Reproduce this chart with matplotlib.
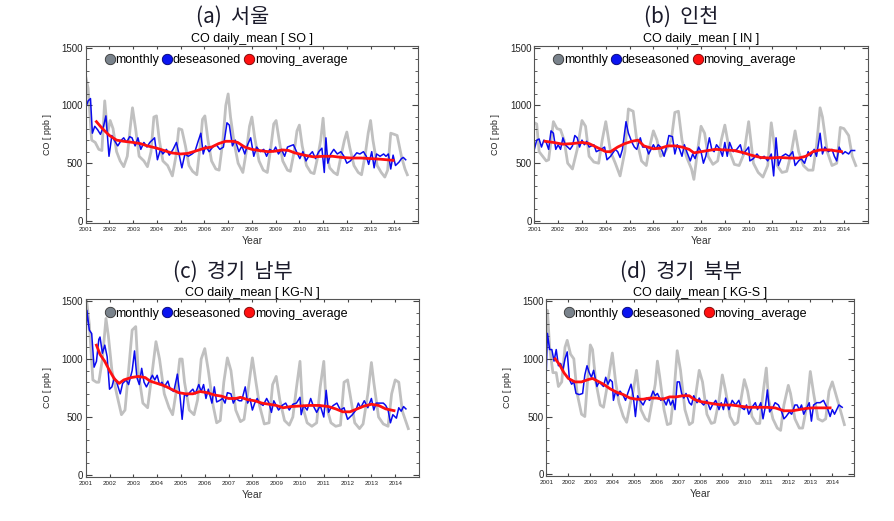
import numpy as np
import matplotlib
matplotlib.use("Agg")
import matplotlib.pyplot as plt
from matplotlib.lines import Line2D
from matplotlib.ticker import MultipleLocator

plt.rcParams['font.family'] = ['Liberation Sans', 'DejaVu Sans']

years = list(range(2001, 2015))

# (a) Seoul
so_monthly = [(2001.0,1250),(2001.1,1150),(2001.25,700),(2001.4,680),(2001.55,620),(2001.68,610),(2001.8,1040),(2001.92,760),
              (2002.03,870),(2002.15,800),(2002.3,600),(2002.45,520),(2002.6,470),(2002.75,560),(2002.87,800),(2002.97,980),
              (2003.1,800),(2003.25,560),(2003.45,520),(2003.6,470),(2003.75,600),(2003.87,900),(2003.98,910),
              (2004.1,700),(2004.25,520),(2004.45,480),(2004.65,390),(2004.8,560),(2004.92,800),(2005.05,790),
              (2005.2,650),(2005.35,480),(2005.5,430),(2005.68,400),(2005.82,650),(2005.92,880),(2006.02,910),
              (2006.15,700),(2006.3,520),(2006.48,450),(2006.62,440),(2006.78,700),(2006.9,1000),(2007.0,1100),
              (2007.1,900),(2007.25,680),(2007.42,500),(2007.62,420),(2007.78,620),(2007.9,820),(2008.0,900),
              (2008.12,720),(2008.3,520),(2008.48,440),(2008.65,420),(2008.8,640),(2008.92,840),(2009.02,870),
              (2009.15,700),(2009.3,520),(2009.5,440),(2009.62,430),(2009.78,600),(2009.9,780),(2010.0,830),
              (2010.12,650),(2010.3,480),(2010.48,420),(2010.62,410),(2010.78,560),(2010.9,700),(2011.0,890),
              (2011.1,620),(2011.28,460),(2011.45,420),(2011.6,400),(2011.75,560),(2011.9,700),(2012.0,770),
              (2012.12,640),(2012.3,480),(2012.48,420),(2012.62,400),(2012.78,580),(2012.9,760),(2013.0,870),
              (2013.1,700),(2013.28,480),(2013.45,420),(2013.6,380),(2013.72,440),(2013.85,760),(2014.0,750),
              (2014.12,740),(2014.3,560),(2014.45,450),(2014.55,400)]
so_deseason = [(2001.0,980),(2001.1,1040),(2001.2,1060),(2001.28,760),(2001.38,820),(2001.5,790),(2001.62,750),(2001.75,820),
               (2001.85,910),(2001.98,560),(2002.1,740),(2002.2,700),(2002.35,650),(2002.5,700),(2002.6,720),(2002.72,680),
               (2002.85,730),(2002.95,720),(2003.08,650),(2003.2,720),(2003.32,620),(2003.45,680),(2003.58,640),
               (2003.7,680),(2003.9,720),(2004.02,530),(2004.15,620),(2004.25,580),(2004.4,620),(2004.52,570),
               (2004.68,620),(2004.82,680),(2004.95,560),(2005.05,460),(2005.18,580),(2005.32,560),(2005.48,580),
               (2005.6,600),(2005.72,680),(2005.85,760),(2005.95,580),(2006.05,650),(2006.2,600),(2006.35,640),
               (2006.5,660),(2006.65,620),(2006.8,640),(2006.95,850),(2007.05,830),(2007.18,650),(2007.3,700),
               (2007.45,600),(2007.58,650),(2007.7,580),(2007.82,660),(2007.95,720),(2008.08,560),(2008.2,640),
               (2008.35,600),(2008.5,620),(2008.62,560),(2008.75,620),(2008.9,600),(2009.0,640),(2009.12,580),
               (2009.25,620),(2009.38,560),(2009.5,640),(2009.62,650),(2009.75,660),(2009.88,600),(2010.02,540),
               (2010.15,600),(2010.28,520),(2010.42,570),(2010.55,600),(2010.68,540),(2010.82,600),(2010.95,630),
               (2011.05,420),(2011.12,720),(2011.2,500),(2011.32,580),(2011.45,620),(2011.6,580),(2011.75,600),
               (2011.88,560),(2012.0,500),(2012.15,520),(2012.3,560),(2012.42,590),(2012.55,580),(2012.7,600),
               (2012.82,560),(2012.92,490),(2013.05,600),(2013.15,460),(2013.25,580),(2013.4,560),(2013.55,580),
               (2013.65,560),(2013.75,580),(2013.85,450),(2013.95,570),(2014.05,480),(2014.2,510),(2014.3,540),
               (2014.38,550),(2014.48,530)]
so_moving = [(2001.45,860),(2001.7,800),(2002.0,740),(2002.3,700),(2002.6,690),(2003.0,680),(2003.3,670),(2003.6,650),
             (2004.0,630),(2004.3,610),(2004.6,590),(2005.0,580),(2005.3,585),(2005.7,610),(2006.0,630),(2006.3,640),
             (2006.6,670),(2006.9,690),(2007.2,690),(2007.4,680),(2007.7,640),(2008.0,620),(2008.3,610),(2008.7,600),
             (2009.0,605),(2009.3,615),(2009.55,610),(2009.8,590),(2010.2,570),(2010.6,555),(2011.0,560),(2011.4,560),
             (2011.8,550),(2012.2,545),(2012.6,545),(2013.0,540),(2013.4,535),(2013.95,525)]

# (b) Incheon
in_monthly = [(2001.0,850),(2001.1,840),(2001.2,600),(2001.35,560),(2001.5,520),(2001.6,530),(2001.8,860),(2001.95,800),
              (2002.1,790),(2002.25,700),(2002.4,500),(2002.6,450),(2002.8,620),(2003.0,870),(2003.15,820),(2003.3,560),
              (2003.5,510),(2003.7,500),(2003.85,700),(2004.0,860),(2004.2,600),(2004.4,500),(2004.6,390),(2004.8,600),
              (2004.95,970),(2005.15,950),(2005.3,700),(2005.5,520),(2005.7,480),(2005.85,650),(2006.0,780),
              (2006.15,700),(2006.3,560),(2006.5,600),(2006.75,700),(2006.9,940),(2007.05,950),(2007.2,700),
              (2007.4,550),(2007.6,450),(2007.7,360),(2007.85,600),(2008.0,820),(2008.15,760),(2008.3,560),
              (2008.5,490),(2008.7,520),(2008.85,700),(2009.0,830),(2009.2,600),(2009.4,490),(2009.6,480),
              (2009.8,580),(2010.0,860),(2010.2,500),(2010.4,420),(2010.6,380),(2010.8,480),(2010.95,850),
              (2011.05,700),(2011.2,480),(2011.4,420),(2011.6,430),(2011.8,600),(2011.95,780),(2012.1,600),
              (2012.3,480),(2012.5,440),(2012.7,440),(2012.85,650),(2013.0,980),(2013.1,900),(2013.3,600),
              (2013.5,480),(2013.7,500),(2013.85,810),(2014.0,800),(2014.2,740),(2014.35,560),(2014.5,480)]
in_deseason = [(2001.0,620),(2001.1,700),(2001.2,710),(2001.3,640),(2001.4,700),(2001.5,680),(2001.6,620),(2001.7,780),
               (2001.8,760),(2001.9,620),(2002.0,660),(2002.1,620),(2002.2,720),(2002.3,660),(2002.5,620),(2002.6,650),
               (2002.7,740),(2002.8,720),(2002.9,640),(2003.0,700),(2003.1,660),(2003.2,690),(2003.3,640),(2003.5,660),
               (2003.6,600),(2003.8,620),(2003.95,640),(2004.05,530),(2004.2,560),(2004.4,620),(2004.5,600),
               (2004.6,550),(2004.7,620),(2004.85,860),(2004.95,760),(2005.1,680),(2005.2,640),(2005.3,620),
               (2005.45,720),(2005.55,640),(2005.7,640),(2005.8,580),(2005.9,620),(2006.0,660),(2006.1,620),
               (2006.2,660),(2006.3,640),(2006.45,560),(2006.55,640),(2006.65,740),(2006.8,730),(2006.9,580),
               (2007.0,660),(2007.1,620),(2007.2,560),(2007.3,660),(2007.4,600),(2007.55,520),(2007.65,580),
               (2007.75,540),(2007.9,640),(2008.0,600),(2008.1,500),(2008.2,560),(2008.35,720),(2008.45,620),
               (2008.55,600),(2008.65,660),(2008.8,620),(2008.9,560),(2009.0,680),(2009.1,560),(2009.2,680),
               (2009.35,600),(2009.5,620),(2009.65,660),(2009.75,580),(2009.85,600),(2010.0,640),(2010.05,520),
               (2010.2,540),(2010.35,580),(2010.5,540),(2010.65,560),(2010.8,520),(2010.95,580),(2011.05,390),
               (2011.15,720),(2011.25,480),(2011.4,560),(2011.55,580),(2011.7,560),(2011.85,600),(2011.95,480),
               (2012.1,520),(2012.2,540),(2012.35,500),(2012.5,600),(2012.6,560),(2012.75,620),(2012.85,560),
               (2013.0,760),(2013.1,580),(2013.2,640),(2013.35,600),(2013.5,620),(2013.6,560),(2013.7,520),
               (2013.8,640),(2013.95,580),(2014.05,600),(2014.2,580),(2014.3,610),(2014.45,610)]
in_moving = [(2001.45,690),(2001.8,680),(2002.2,665),(2002.6,670),(2003.0,680),(2003.3,670),(2003.6,640),(2004.0,600),
             (2004.2,600),(2004.5,640),(2004.8,670),(2005.1,690),(2005.35,700),(2005.6,650),(2006.0,625),(2006.3,630),
             (2006.6,650),(2006.9,650),(2007.2,640),(2007.5,620),(2007.7,590),(2008.0,600),(2008.3,610),(2008.6,620),
             (2009.0,615),(2009.4,610),(2009.8,590),(2010.1,570),(2010.5,550),(2010.9,545),(2011.3,550),(2011.7,545),
             (2012.1,545),(2012.4,560),(2012.7,600),(2013.0,615),(2013.4,615),(2013.9,600)]

# (c) KG-N
kgn_monthly = [(2001.0,1530),(2001.05,1480),(2001.15,1300),(2001.3,820),(2001.45,800),(2001.55,800),(2001.7,1000),
               (2001.85,1350),(2001.95,1200),(2002.1,900),(2002.3,700),(2002.5,520),(2002.65,560),(2002.8,900),
               (2002.95,1250),(2003.1,1280),(2003.2,900),(2003.4,620),(2003.6,580),(2003.8,900),(2003.95,1150),
               (2004.1,1000),(2004.3,700),(2004.5,580),(2004.65,520),(2004.8,720),(2004.95,1000),(2005.05,1000),
               (2005.15,800),(2005.35,560),(2005.55,520),(2005.7,650),(2005.85,1000),(2006.0,1090),(2006.15,900),
               (2006.35,600),(2006.5,450),(2006.65,470),(2006.8,800),(2006.95,1010),(2007.1,900),(2007.3,560),
               (2007.5,460),(2007.65,480),(2007.8,700),(2008.0,1010),(2008.15,800),(2008.3,600),(2008.5,440),
               (2008.7,450),(2008.85,780),(2009.0,850),(2009.15,650),(2009.35,470),(2009.55,430),(2009.7,500),
               (2009.85,750),(2010.0,980),(2010.1,600),(2010.3,450),(2010.5,420),(2010.7,450),(2010.85,760),
               (2011.0,980),(2011.1,600),(2011.3,450),(2011.5,420),(2011.7,430),(2011.85,800),(2012.0,820),
               (2012.1,700),(2012.3,450),(2012.5,400),(2012.65,440),(2012.85,700),(2013.0,970),(2013.1,800),
               (2013.3,500),(2013.5,440),(2013.7,420),(2013.85,700),(2014.0,820),(2014.15,800),(2014.3,550),
               (2014.55,400)]
kgn_deseason = [(2001.0,1110),(2001.05,1420),(2001.15,1250),(2001.25,1220),(2001.35,930),(2001.45,980),(2001.55,1170),
                (2001.6,1190),(2001.7,1050),(2001.8,1120),(2001.9,1020),(2002.0,740),(2002.1,760),(2002.2,840),
                (2002.3,800),(2002.45,700),(2002.55,790),(2002.7,820),(2002.8,780),(2002.95,900),(2003.05,1070),
                (2003.15,840),(2003.25,780),(2003.35,920),(2003.45,800),(2003.55,760),(2003.7,820),(2003.8,860),
                (2003.9,820),(2004.0,860),(2004.1,780),(2004.2,800),(2004.3,760),(2004.45,810),(2004.55,740),
                (2004.7,720),(2004.85,870),(2004.95,700),(2005.05,480),(2005.15,700),(2005.25,680),(2005.4,720),
                (2005.5,740),(2005.6,700),(2005.75,780),(2005.85,720),(2005.95,780),(2006.05,660),(2006.15,740),
                (2006.3,620),(2006.4,760),(2006.5,630),(2006.6,640),(2006.75,660),(2006.85,620),(2006.95,710),
                (2007.1,700),(2007.2,620),(2007.3,660),(2007.45,640),(2007.55,640),(2007.7,760),(2007.8,620),
                (2007.9,660),(2008.0,560),(2008.1,620),(2008.2,660),(2008.3,620),(2008.45,600),(2008.6,660),
                (2008.7,620),(2008.8,540),(2008.9,640),(2009.0,600),(2009.1,560),(2009.25,600),(2009.4,620),
                (2009.55,560),(2009.7,610),(2009.85,620),(2010.0,670),(2010.05,520),(2010.15,600),(2010.3,560),
                (2010.45,660),(2010.55,600),(2010.7,540),(2010.85,600),(2011.0,500),(2011.1,730),(2011.2,540),
                (2011.3,580),(2011.4,600),(2011.55,620),(2011.7,560),(2011.85,580),(2012.0,480),(2012.1,500),
                (2012.2,520),(2012.35,560),(2012.45,620),(2012.55,580),(2012.7,640),(2012.85,580),(2013.0,660),
                (2013.1,560),(2013.2,620),(2013.35,620),(2013.5,620),(2013.6,600),(2013.7,560),(2013.8,450),
                (2013.9,520),(2014.05,490),(2014.15,580),(2014.25,550),(2014.35,590),(2014.45,570)]
kgn_moving = [(2001.45,1120),(2001.6,1040),(2001.8,980),(2002.0,900),(2002.2,830),(2002.4,790),(2002.6,820),(2002.9,840),
              (2003.2,850),(2003.5,840),(2003.7,810),(2004.0,790),(2004.3,770),(2004.6,740),(2004.9,710),(2005.2,700),
              (2005.5,700),(2005.8,720),(2006.1,710),(2006.4,690),(2006.7,680),(2007.0,660),(2007.3,660),(2007.5,670),
              (2007.8,650),(2008.1,640),(2008.4,620),(2008.7,610),(2009.0,600),(2009.3,580),(2009.6,590),(2010.0,595),
              (2010.4,600),(2010.8,600),(2011.2,590),(2011.5,570),(2011.8,545),(2012.1,545),(2012.4,570),(2012.7,595),
              (2013.0,610),(2013.3,600),(2013.6,570),(2013.95,555)]

# (d) KG-S
kgs_monthly = [(2001.0,1200),(2001.05,1420),(2001.15,1100),(2001.3,880),(2001.45,880),(2001.55,760),(2001.7,800),
               (2001.85,1100),(2001.95,1160),(2002.1,1040),(2002.25,1000),(2002.4,700),(2002.6,520),(2002.75,500),
               (2002.85,750),(2003.0,1120),(2003.1,1080),(2003.25,800),(2003.45,600),(2003.6,580),(2003.8,800),
               (2004.0,1050),(2004.15,800),(2004.3,620),(2004.5,500),(2004.65,450),(2004.8,600),(2004.95,720),
               (2005.1,900),(2005.3,560),(2005.5,480),(2005.65,460),(2005.8,620),(2005.95,780),(2006.05,980),
               (2006.15,850),(2006.35,560),(2006.5,430),(2006.65,440),(2006.8,700),(2006.95,1070),(2007.1,900),
               (2007.3,560),(2007.5,430),(2007.65,450),(2007.8,700),(2007.95,900),(2008.1,800),(2008.3,520),
               (2008.5,440),(2008.65,450),(2008.85,640),(2009.0,860),(2009.15,720),(2009.35,500),(2009.55,430),
               (2009.7,450),(2009.85,650),(2010.0,820),(2010.15,720),(2010.35,500),(2010.55,440),(2010.7,440),
               (2010.85,700),(2011.0,920),(2011.1,650),(2011.3,480),(2011.5,400),(2011.65,380),(2011.8,600),
               (2012.0,770),(2012.1,700),(2012.3,480),(2012.5,400),(2012.65,400),(2012.85,600),(2013.0,890),
               (2013.15,700),(2013.35,480),(2013.55,460),(2013.7,480),(2013.85,720),(2014.0,800),(2014.15,700),
               (2014.3,600),(2014.55,430)]
kgs_deseason = [(2001.0,900),(2001.05,1220),(2001.15,1080),(2001.25,1080),(2001.35,980),(2001.45,1080),(2001.55,940),
                (2001.65,960),(2001.75,900),(2001.85,1000),(2001.95,1060),(2002.05,820),(2002.15,780),(2002.25,800),
                (2002.35,700),(2002.5,690),(2002.65,700),(2002.75,860),(2002.85,940),(2002.95,880),(2003.05,840),
                (2003.15,900),(2003.3,760),(2003.4,800),(2003.5,780),(2003.6,760),(2003.7,840),(2003.8,780),
                (2003.9,820),(2004.0,800),(2004.05,640),(2004.15,720),(2004.25,680),(2004.35,720),(2004.5,680),
                (2004.6,640),(2004.7,700),(2004.85,780),(2004.95,680),(2005.05,500),(2005.15,680),(2005.25,640),
                (2005.4,600),(2005.55,660),(2005.7,640),(2005.85,720),(2005.95,680),(2006.05,700),(2006.2,640),
                (2006.3,660),(2006.45,600),(2006.55,660),(2006.65,600),(2006.75,640),(2006.85,560),(2006.95,800),
                (2007.05,800),(2007.15,700),(2007.25,660),(2007.35,700),(2007.5,620),(2007.6,600),(2007.7,680),
                (2007.85,620),(2007.95,660),(2008.05,620),(2008.15,600),(2008.3,640),(2008.45,560),(2008.55,600),
                (2008.7,640),(2008.85,560),(2008.95,620),(2009.05,560),(2009.15,660),(2009.3,560),(2009.45,640),
                (2009.6,600),(2009.75,640),(2009.85,580),(2010.0,560),(2010.1,600),(2010.2,520),(2010.35,580),
                (2010.5,620),(2010.6,560),(2010.75,620),(2010.85,480),(2010.95,580),(2011.05,730),(2011.15,540),
                (2011.3,580),(2011.4,620),(2011.55,600),(2011.7,540),(2011.8,480),(2011.9,500),(2012.05,540),
                (2012.15,520),(2012.3,600),(2012.4,600),(2012.5,560),(2012.6,600),(2012.7,520),(2012.8,560),
                (2012.95,620),(2013.05,460),(2013.15,600),(2013.3,620),(2013.45,620),(2013.6,640),(2013.7,600),
                (2013.8,560),(2013.9,500),(2014.0,560),(2014.1,520),(2014.2,560),(2014.3,600),(2014.45,580)]
kgs_moving = [(2001.4,1000),(2001.6,950),(2001.8,880),(2002.0,830),(2002.3,800),(2002.6,800),(2002.9,820),(2003.1,830),
              (2003.3,810),(2003.6,780),(2003.9,740),(2004.2,710),(2004.5,690),(2004.8,660),(2005.1,650),(2005.4,650),
              (2005.7,660),(2006.0,660),(2006.3,650),(2006.6,670),(2006.9,670),(2007.2,680),(2007.5,680),(2007.7,650),
              (2008.0,630),(2008.3,620),(2008.6,610),(2009.0,600),(2009.4,600),(2009.8,590),(2010.2,580),(2010.6,580),
              (2011.0,580),(2011.4,575),(2011.8,550),(2012.2,550),(2012.5,560),(2012.8,570),(2013.1,575),(2013.5,575),
              (2013.9,575)]

panels = [
    ("(a)  서울", "SO", so_monthly, so_deseason, so_moving, [0.0959, 0.5726, 0.3717, 0.3397], (0.260, 0.967)),
    ("(b)  인천", "IN", in_monthly, in_deseason, in_moving, [0.5977, 0.5726, 0.3729, 0.3397], (0.762, 0.967)),
    ("(c)  경기  남부", "KG-N", kgn_monthly, kgn_deseason, kgn_moving, [0.0959, 0.0850, 0.3728, 0.3411], (0.260, 0.478)),
    ("(d)  경기  북부", "KG-S", kgs_monthly, kgs_deseason, kgs_moving, [0.6111, 0.0864, 0.3445, 0.3397], (0.762, 0.478)),
]

fig = plt.figure(figsize=(8.94, 5.21), dpi=100)

for label, code, monthly, deseason, moving, rect, lpos in panels:
    ax = fig.add_axes(rect)
    t, v = zip(*monthly)
    ax.plot(t, v, color="#c0c0c0", lw=2.0, zorder=1)
    t, v = zip(*deseason)
    ax.plot(t, v, color="#0a0aee", lw=1.1, zorder=2)
    t, v = zip(*moving)
    ax.plot(t, v, color="#ff1010", lw=2.0, zorder=3)

    ax.set_xlim(2001, 2015)
    ax.set_ylim(-15, 1518)
    ax.set_xticks(years)
    ax.set_xticklabels([str(y) for y in years], fontsize=4.5)
    ax.yaxis.set_major_locator(MultipleLocator(500))
    ax.yaxis.set_minor_locator(MultipleLocator(100))
    ax.tick_params(axis="both", which="both", direction="in", right=True, top=True, colors="#444444")
    ax.tick_params(axis="y", which="major", length=4, labelsize=7, labelcolor="#222222", pad=2)
    ax.tick_params(axis="y", which="minor", length=2.5)
    ax.tick_params(axis="x", which="major", length=2.5, labelcolor="#222222", pad=3)
    for s in ax.spines.values():
        s.set_color("#555555")
        s.set_linewidth(0.8)

    ax.set_xlabel("Year", fontsize=7.5, labelpad=3, color="#333333")
    ax.set_ylabel("CO [ ppb ]", fontsize=6.5, labelpad=7, color="#222222")
    ax.set_title("CO daily_mean [ %s ]" % code, fontsize=9, pad=2.5)

    handles = [
        Line2D([], [], ls="none", marker="o", ms=7.5, mfc="#7a838c", mec="#333333", mew=0.6),
        Line2D([], [], ls="none", marker="o", ms=7.5, mfc="#0a14f0", mec="#000070", mew=0.6),
        Line2D([], [], ls="none", marker="o", ms=7.5, mfc="#ff1010", mec="#700000", mew=0.6),
    ]
    ax.legend(handles, ["monthly", "deseasoned", "moving_average"], loc="center left",
              bbox_to_anchor=(0.055, 0.918), ncol=3, frameon=False, fontsize=9,
              handlelength=0.9, handletextpad=0.0, columnspacing=0.2, borderpad=0, borderaxespad=0)

    fig.text(lpos[0], lpos[1], label, ha="center", va="center", fontsize=15,
             family=["Noto Sans CJK KR", "DejaVu Sans"], color="#1a1a2a")

fig.savefig("out.png", dpi=100)
